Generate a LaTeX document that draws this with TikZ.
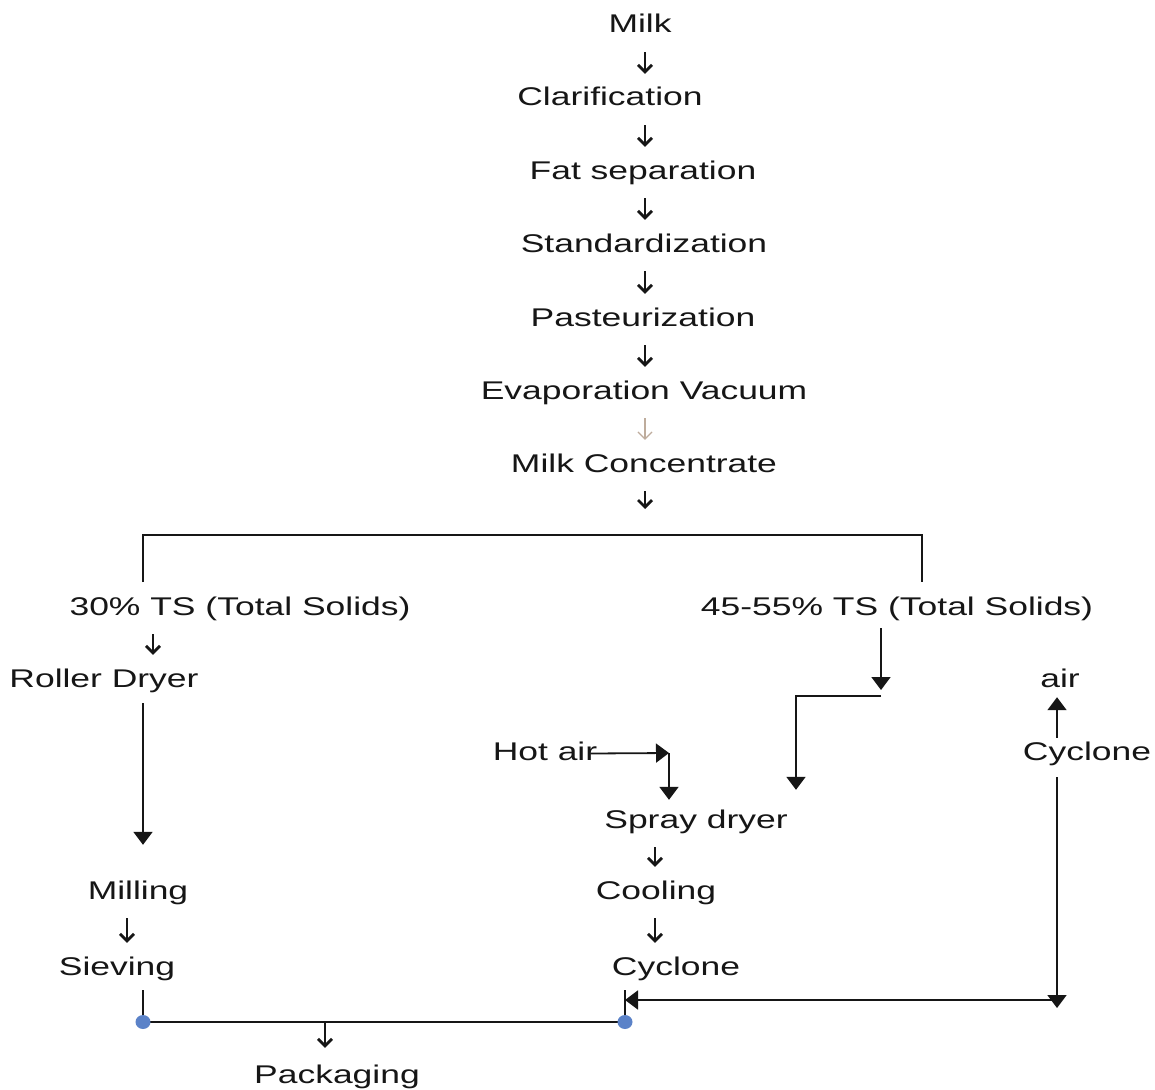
\documentclass[tikz,border=0pt]{standalone}
\usepackage{fontspec}
\usetikzlibrary{arrows.meta}
\newfontfamily\lbfont[FakeStretch=1.385]{Liberation Sans}
\definecolor{ink}{HTML}{161616}
\definecolor{dotblue}{HTML}{5B82C8}
\definecolor{paleink}{RGB}{190,172,156}
\begin{document}
\begin{tikzpicture}[x=1pt,y=-1pt,
  lbl/.style={font=\lbfont\fontsize{25.6}{30}\selectfont, text=ink, inner sep=0pt,
              text height=19pt, text depth=6pt, anchor=base},
  glyph/.style={draw=ink, line width=2.8pt, -{Straight Barb[length=7pt,width=14pt]},
                shorten <=13pt, shorten >=13pt},
  wire/.style={draw=ink, line width=1.8pt},
  flow/.style={wire, -{Triangle[length=13pt,width=19pt]}},
  joint/.style={fill=dotblue, draw=none}]
\useasboundingbox (0,0) rectangle (1155,1089);
\fill[white] (0,0) rectangle (1155,1089);

% process steps
\node[lbl] (milk)  at (640,33)  {Milk};
\node[lbl] (clar)  at (610,106) {Clarification};
\node[lbl] (fat)   at (643,179) {Fat separation};
\node[lbl] (std)   at (644,252) {Standardization};
\node[lbl] (past)  at (643,326) {Pasteurization};
\node[lbl] (evap)  at (644,399) {Evaporation Vacuum};
\node[lbl] (conc)  at (644,472) {Milk Concentrate};
\node[lbl] (ts30)  at (240,615) {30\% TS (Total Solids)};
\node[lbl] (ts45)  at (897,615) {45-55\% TS (Total Solids)};
\node[lbl] (roller) at (104,687) {Roller Dryer};
\node[lbl] (air)   at (1060,687) {air};
\node[lbl] (cycR)  at (1087,760) {Cyclone};
\node[lbl] (hot)   at (545,760) {Hot air};
\node[lbl] (spray) at (696,828) {Spray dryer};
\node[lbl] (mill)  at (138,899) {Milling};
\node[lbl] (cool)  at (656,899) {Cooling};
\node[lbl] (sieve) at (117,975) {Sieving};
\node[lbl] (cyc)   at (676,975) {Cyclone};
\node[lbl] (pack)  at (337,1083) {Packaging};

% helper columns and junctions
\coordinate (col)    at (645,0);
\coordinate (fork)   at (645,535);
\coordinate (bl)     at (143,582);
\coordinate (br)     at (922,582);
\coordinate (c30)    at (153,0);
\coordinate (lcol)   at (143,0);
\coordinate (c127)   at (127,0);
\coordinate (rcol)   at (655,0);
\coordinate (jog)    at (881,696);
\coordinate (dcol)   at (796,0);
\coordinate (hotc)   at (669,753);
\coordinate (acol)   at (1057,0);
\coordinate (rc)     at (1057,1000);
\coordinate (dotL)   at (143,1022);
\coordinate (dotR)   at (625,1022);
\coordinate (packtap) at (325,1022);

% main chain
\draw[glyph] (milk.south -| col) -- (clar.north -| col);
\draw[glyph] (clar.south -| col) -- (fat.north -| col);
\draw[glyph] (fat.south -| col) -- (std.north -| col);
\draw[glyph] (std.south -| col) -- (past.north -| col);
\draw[glyph] (past.south -| col) -- (evap.north -| col);
\draw[glyph, draw=paleink, line width=1.2pt] (evap.south -| col) -- (conc.north -| col);
\draw[glyph, shorten >=26pt] (conc.south -| col) -- (fork);

% split bracket
\draw[wire] (bl) |- (fork) -| (br);

% roller-dryer branch
\draw[glyph] (ts30.south -| c30) -- (roller.north -| c30);
\draw[flow, shorten <=10pt, shorten >=35pt] (roller.south -| lcol) -- (mill.north -| lcol);
\draw[glyph] (mill.south -| c127) -- (sieve.north -| c127);
\draw[wire, shorten <=9pt] (sieve.south -| dotL) -- (dotL);

% spray-dryer branch
\draw[flow, shorten <=7pt, shorten >=6pt] (ts45.south -| jog) -- (jog);
\draw[flow, shorten >=19pt] (jog) -| (spray.north -| dcol);
\draw[flow] ([xshift=-7pt]hot.east) -- (hotc);
\draw[flow, shorten >=9pt] (hotc) -- (spray.north -| hotc);
\draw[glyph] (spray.south -| rcol) -- (cool.north -| rcol);
\draw[glyph] (cool.south -| rcol) -- (cyc.north -| rcol);
\draw[wire, shorten <=9pt] (cyc.south -| dotR) -- (dotR);

% cyclone air return
\draw[flow, shorten <=3pt, shorten >=4pt] (cycR.north -| acol) -- (air.south -| acol);
\draw[flow, shorten <=11pt, shorten >=-8pt] (cycR.south -| acol) -- (rc);
\draw[flow] (rc) -- (dotR |- rc);

% packaging
\draw[wire] (dotL) -- (dotR);
\draw[glyph, shorten <=0pt, shorten >=16pt] (packtap) -- (pack.north -| packtap);
\fill[joint] (dotL) ellipse (7.5pt and 7pt);
\fill[joint] (dotR) ellipse (7.5pt and 7pt);
\end{tikzpicture}
\end{document}
